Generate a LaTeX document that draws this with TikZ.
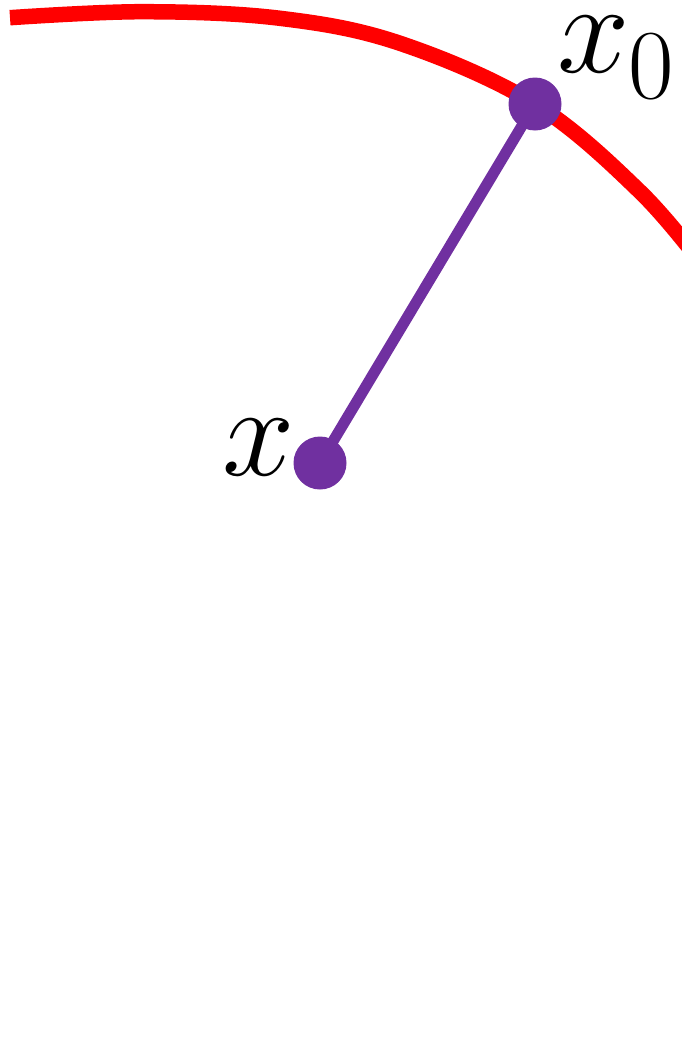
\RequirePackage{fix-cm}
\documentclass[tikz,border=0pt]{standalone}
\usetikzlibrary{backgrounds}
\definecolor{ptpurple}{RGB}{112,48,160}
\definecolor{arcred}{RGB}{255,0,0}
\tikzset{
  dot/.style={circle, fill=ptpurple, draw=none, minimum size=53pt, inner sep=0pt},
  conn/.style={draw=ptpurple, line width=11pt},
  arcline/.style={draw=arcred, line width=15.5pt},
  lbl/.style={inner sep=0pt, outer sep=0pt, font=\fontsize{130}{150}\selectfont}
}
\begin{document}
\begin{tikzpicture}[x=1pt, y=-1pt]
\useasboundingbox (0,0) rectangle (682,1055);
% red arc
\draw[arcline] plot[smooth, tension=0.6] coordinates {(10,17.7) (143,11.7) (280,18.3) (400,43.3) (535,104) (640,191.7) (705,268)};
% points
\node[dot] (px) at (320,463) {};
\node[dot] (px0) at (535,104) {};
\begin{pgfonlayer}{background}
\draw[conn] (px.center) -- (px0.center);
\end{pgfonlayer}
% labels
\node[lbl, anchor=base west] (lx) at (222,475) {$x$};
\node[lbl, anchor=base west] (lx0) at (557,72) {$x$\kern-1pt\lower26pt\hbox{\fontsize{99}{110}\selectfont 0}};
\end{tikzpicture}
\end{document}
